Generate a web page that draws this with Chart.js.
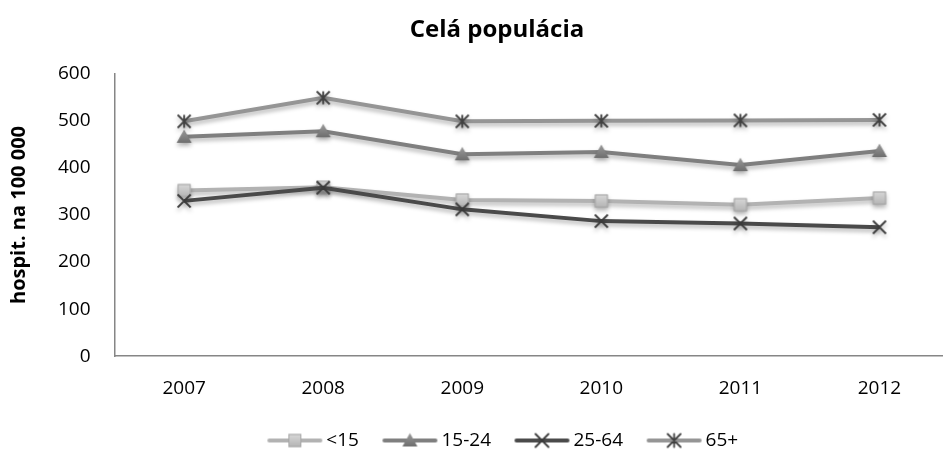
<!DOCTYPE html>
<html>
<head>
<meta charset="utf-8">
<script src="https://cdn.jsdelivr.net/npm/chart.js@4.4.0/dist/chart.umd.min.js"></script>
<style>
html,body{margin:0;padding:0;background:#fff;overflow:hidden;width:943px;height:455px;}
#wrap{position:absolute;left:0;top:0;width:960px;height:464px;}
</style>
</head>
<body>
<div id="wrap"><canvas id="c" width="960" height="464"></canvas></div>
<script>
// ---- data ----
const years = ['2007', '2008', '2009', '2010', '2011', '2012'];
const seriesNames = ['<15', '15-24', '25-64', '65+'];
const under15 = [352, 359, 332, 330, 322, 336];
const age15_24 = [466, 478, 429, 434, 406, 436];
const age25_64 = [330, 358, 312, 287, 282, 274];
const age65plus = [499, 549, 499, 500, 501, 502];
const yTicks = [0, 100, 200, 300, 400, 500, 600];

const FONT = "'Open Sans', 'DejaVu Sans', sans-serif";

function mk(w, h, fn) {
  const c = document.createElement('canvas');
  c.width = w; c.height = h;
  const ctx = c.getContext('2d');
  fn(ctx, w / 2, h / 2);
  return c;
}
function drawSquare(ctx, cx, cy) {
  const s = 13;
  const g = ctx.createLinearGradient(0, cy - s / 2, 0, cy + s / 2);
  g.addColorStop(0, '#d8d8d8'); g.addColorStop(1, '#b4b4b4');
  ctx.fillStyle = g;
  ctx.fillRect(cx - s / 2, cy - s / 2, s, s);
  ctx.strokeStyle = '#a6a6a6'; ctx.lineWidth = 1;
  ctx.strokeRect(cx - s / 2 + 0.5, cy - s / 2 + 0.5, s - 1, s - 1);
}
function drawTri(ctx, cx, cy) {
  const g = ctx.createLinearGradient(0, cy - 7, 0, cy + 6);
  g.addColorStop(0, '#9a9a9a'); g.addColorStop(1, '#6e6e6e');
  ctx.fillStyle = g;
  ctx.beginPath();
  ctx.moveTo(cx, cy - 7.5); ctx.lineTo(cx + 7.5, cy + 6); ctx.lineTo(cx - 7.5, cy + 6);
  ctx.closePath(); ctx.fill();
}
function drawX(ctx, cx, cy) {
  ctx.strokeStyle = '#3a3a3a'; ctx.lineWidth = 1.8;
  const r = 6.5;
  ctx.beginPath();
  ctx.moveTo(cx - r, cy - r); ctx.lineTo(cx + r, cy + r);
  ctx.moveTo(cx + r, cy - r); ctx.lineTo(cx - r, cy + r);
  ctx.stroke();
}
function drawStar(ctx, cx, cy) {
  ctx.strokeStyle = '#404040'; ctx.lineWidth = 1.8;
  const r = 6.5;
  ctx.beginPath();
  ctx.moveTo(cx - r, cy - r); ctx.lineTo(cx + r, cy + r);
  ctx.moveTo(cx + r, cy - r); ctx.lineTo(cx - r, cy + r);
  ctx.moveTo(cx, cy - r); ctx.lineTo(cx, cy + r);
  ctx.stroke();
}
const markerFns = [drawSquare, drawTri, drawX, drawStar];
const lineColors = ['#b2b2b2', '#7f7f7f', '#4a4a4a', '#959595'];
const markers = markerFns.map(f => mk(18, 18, f));
// legend image: 76 wide, line drawn from local x ~21 to ~74 (54 px)
const legendImgs = markerFns.map((f, i) => mk(76, 18, (ctx, cx, cy) => {
  ctx.strokeStyle = lineColors[i]; ctx.lineWidth = 4; ctx.lineCap = 'round';
  ctx.beginPath(); ctx.moveTo(22, cy); ctx.lineTo(73, cy); ctx.stroke();
  f(ctx, 47.5, cy);
}));

const values = [under15, age15_24, age25_64, age65plus];
const datasets = values.map((v, i) => ({
  label: seriesNames[i],
  data: v,
  borderColor: lineColors[i],
  backgroundColor: lineColors[i],
  borderWidth: 4,
  pointStyle: markers[i],
  pointRadius: 7,
  pointHoverRadius: 7,
  tension: 0,
  order: 3 - i
}));

const shiftPlugin = {
  id: 'shift',
  afterLayout(chart) {
    const t = chart.titleBlock, l = chart.legend;
    if (t) { t.left += 16; t.right += 16; }
    if (l) { l.left += 15; l.right += 15; }
  },
  beforeDatasetsDraw(chart) {
    const ctx = chart.ctx;
    ctx.save();
    ctx.shadowColor = 'rgba(0,0,0,0.28)';
    ctx.shadowBlur = 4;
    ctx.shadowOffsetY = 3;
  },
  afterDatasetsDraw(chart) { chart.ctx.restore(); }
};

new Chart(document.getElementById('c'), {
  type: 'line',
  data: { labels: years, datasets },
  plugins: [shiftPlugin],
  options: {
    responsive: false,
    animation: false,
    devicePixelRatio: 1,
    layout: { padding: { left: 4, right: 2, top: 12, bottom: 4 } },
    plugins: {
      tooltip: { enabled: false },
      title: {
        display: true,
        text: 'Celá populácia',
        color: '#000',
        font: { family: FONT, size: 24, weight: 'bold' },
        padding: { top: 4, bottom: 29 }
      },
      legend: {
        position: 'bottom',
        labels: {
          usePointStyle: true,
          pointStyleWidth: 63,
          padding: 10,
          color: '#000',
          font: { family: FONT, size: 19 },
          generateLabels: (chart) => seriesNames.map((n, i) => ({
            text: n,
            pointStyle: legendImgs[i],
            fillStyle: lineColors[i],
            strokeStyle: lineColors[i],
            lineWidth: 0,
            hidden: false,
            datasetIndex: i,
            fontColor: '#000'
          }))
        }
      }
    },
    scales: {
      x: {
        offset: true,
        grid: { display: false, drawTicks: false },
        border: { display: true, color: '#868686', width: 1.5 },
        ticks: { color: '#000', font: { family: FONT, size: 19 }, padding: 21 }
      },
      y: {
        min: 0, max: 600,
        afterBuildTicks: (s) => { s.ticks = yTicks.map(v => ({ value: v })); },
        grid: { display: false, drawTicks: false },
        border: { display: true, color: '#868686', width: 1.5 },
        ticks: { color: '#000', font: { family: FONT, size: 19 }, padding: 24 },
        title: {
          display: true,
          text: 'hospit. na 100 000',
          color: '#000',
          font: { family: FONT, size: 20, weight: 'bold' },
          padding: { top: 3, bottom: 3 }
        }
      }
    }
  }
});
</script>
</body>
</html>
